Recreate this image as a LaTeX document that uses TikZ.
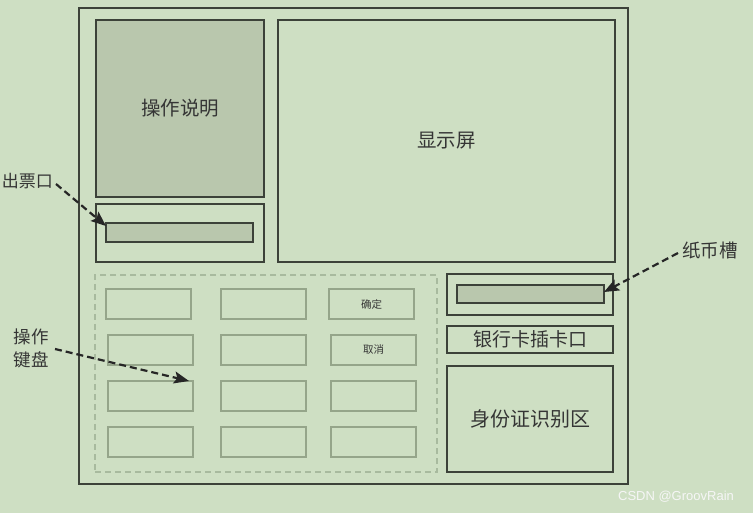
\documentclass[tikz,border=0pt]{standalone}
\usepackage{fontspec}
\setmainfont{Noto Sans CJK SC}
\newfontfamily\wmfont{Liberation Sans}
\usetikzlibrary{arrows.meta}
\definecolor{bgc}{HTML}{CEDFC3}
\definecolor{dk}{HTML}{3C4239}
\definecolor{slotfill}{HTML}{B9C7AD}
\definecolor{keyc}{HTML}{95A58A}
\definecolor{padc}{HTML}{A8BA9E}
\definecolor{txt}{HTML}{353535}
\tikzset{
  box/.style={draw=dk, line width=2pt, inner sep=0pt, outer sep=0pt, text=txt},
  darkbox/.style={box, fill=slotfill},
  keybox/.style={draw=keyc, line width=2pt, inner sep=0pt, outer sep=0pt, minimum width=85pt, minimum height=30pt, text=txt, font=\fontsize{10.5}{12}\selectfont},
  padbox/.style={draw=padc, line width=1.5pt, dash pattern=on 6pt off 4pt, inner sep=0pt, outer sep=0pt},
  lbl/.style={text=txt, font=\fontsize{17}{21}\selectfont, inner sep=0pt},
  callout/.style={draw=black!85, line width=2.2pt, dash pattern=on 7pt off 4pt, -{Stealth[length=15pt,width=12pt,inset=3pt]}}
}
\begin{document}
\begin{tikzpicture}[x=1pt,y=-1pt]
\fill[bgc] (0,0) rectangle (753,513);
\useasboundingbox (0,0) rectangle (753,513);
% outer frame
\node[box, minimum width=549pt, minimum height=476pt] (frame) at (353.5,246) {};
% instructions and screen
\node[darkbox, minimum width=168pt, minimum height=177pt, font=\fontsize{19.5}{23}\selectfont] (instr) at (180,108.5) {操作说明};
\node[box, minimum width=337pt, minimum height=242pt, font=\fontsize{19.5}{23}\selectfont] (screen) at (446.5,141) {显示屏};
% ticket outlet
\node[box, minimum width=168pt, minimum height=58pt] (ticketbox) at (180,233) {};
\node[darkbox, minimum width=147pt, minimum height=19pt] (ticketslot) at (179.5,232.5) {};
% keypad
\node[padbox, minimum width=342pt, minimum height=197pt] (pad) at (266,373.5) {};
\node[keybox] (k11) at (148.5,304) {};
\node[keybox] (k12) at (263.5,304) {};
\node[keybox] (k13) at (371.5,304) {确定};
\node[keybox] (k21) at (150.5,350) {};
\node[keybox] (k22) at (263.5,350) {};
\node[keybox] (k23) at (373.5,350) {取消};
\node[keybox] (k31) at (150.5,396) {};
\node[keybox] (k32) at (263.5,396) {};
\node[keybox] (k33) at (373.5,396) {};
\node[keybox] (k41) at (150.5,442) {};
\node[keybox] (k42) at (263.5,442) {};
\node[keybox] (k43) at (373.5,442) {};
% right column
\node[box, minimum width=166pt, minimum height=41pt] (billbox) at (530,294.5) {};
\node[darkbox, minimum width=147pt, minimum height=18pt] (billslot) at (530.5,294) {};
\node[box, minimum width=166pt, minimum height=27pt, font=\fontsize{19}{22}\selectfont] (card) at (530,339.5) {银行卡插卡口};
\node[box, minimum width=166pt, minimum height=106pt, font=\fontsize{20}{23}\selectfont] (idarea) at (530,419) {身份证识别区};
% labels
\node[lbl, anchor=east] (lticket) at (53,181) {出票口};
\node[lbl, align=center, font=\fontsize{17.5}{23}\selectfont] (lkeys) at (31,348.5) {操作\\键盘};
\node[lbl, anchor=west, font=\fontsize{18.5}{22}\selectfont] (lbill) at (682,250) {纸币槽};
\coordinate (tickettip) at (106,226);
\coordinate (keytip) at (189,381);
\coordinate (billtip) at (604,292);
\draw[callout] (lticket.east) ++(3,3) -- (tickettip);
\draw[callout] (55,349) -- (keytip);
\draw[callout] (lbill.west) ++(-4,3) -- (billtip);
% watermark
\node[inner sep=0pt, text=white!93!gray, font=\wmfont\fontsize{13}{15}\selectfont] (wm) at (676,497) {CSDN @GroovRain};
\end{tikzpicture}
\end{document}
